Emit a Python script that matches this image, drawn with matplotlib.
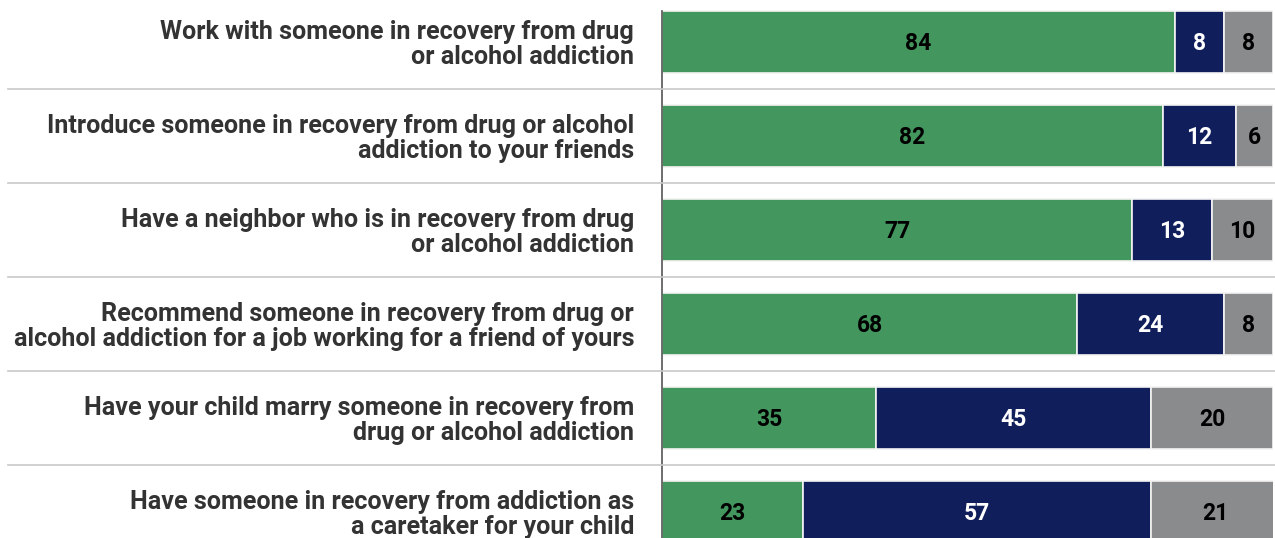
import matplotlib
matplotlib.use("Agg")
import matplotlib.pyplot as plt
from matplotlib.transforms import blended_transform_factory
from matplotlib.lines import Line2D

statements = [
    "Work with someone in recovery from drug\nor alcohol addiction",
    "Introduce someone in recovery from drug or alcohol\naddiction to your friends",
    "Have a neighbor who is in recovery from drug\nor alcohol addiction",
    "Recommend someone in recovery from drug or\nalcohol addiction for a job working for a friend of yours",
    "Have your child marry someone in recovery from\ndrug or alcohol addiction",
    "Have someone in recovery from addiction as\na caretaker for your child",
]
comfortable = [84, 82, 77, 68, 35, 23]
uncomfortable = [8, 12, 13, 24, 45, 57]
unsure = [8, 6, 10, 8, 20, 21]

green = "#43975E"
navy = "#111E5C"
grey = "#8A8B8C"

plt.rcParams["font.family"] = ["Roboto", "DejaVu Sans"]

W, H = 1275, 538
fig = plt.figure(figsize=(W / 100, H / 100), dpi=100)
ax = fig.add_axes([662 / W, 0, (1273 - 662) / W, 1])

ys = list(range(len(statements)))
bar_h = 0.67
series = [(comfortable, green, "black"),
          (uncomfortable, navy, "white"),
          (unsure, grey, "black")]
left = [0] * len(ys)
for vals, col, tcol in series:
    ax.barh(ys, vals, left=left, height=bar_h, color=col,
            edgecolor="#f4f4f4", linewidth=1.2, zorder=2)
    for y, l, v in zip(ys, left, vals):
        ax.text(l + v / 2, y + 0.02, str(v), ha="center", va="center",
                color=tcol, fontsize=16.5, fontweight="bold", zorder=3)
    left = [a + b for a, b in zip(left, vals)]

ax.set_xlim(0, 100)
ax.set_ylim(496 / 94, -42 / 94)
ax.set_yticks(ys)
ax.set_yticklabels(statements, fontsize=18.1, fontweight="bold",
                   color="#333333", linespacing=1.02)
ax.tick_params(axis="y", length=0, pad=20)
ax.tick_params(axis="x", bottom=False, labelbottom=False)
for s in ax.spines.values():
    s.set_visible(False)

# row separators spanning label and bar areas
tr = blended_transform_factory(fig.transFigure, ax.transData)
for y in ys[:-1]:
    fig.add_artist(Line2D([8 / W, 1], [y + 0.5, y + 0.5], transform=tr,
                          color="#c8c8c8", linewidth=1.2))

# baseline at zero
ax.plot([0, 0], [-bar_h / 2, ax.get_ylim()[0]], color="#555555",
        linewidth=1.2, zorder=4, clip_on=False)

fig.savefig("out.png", dpi=100)
